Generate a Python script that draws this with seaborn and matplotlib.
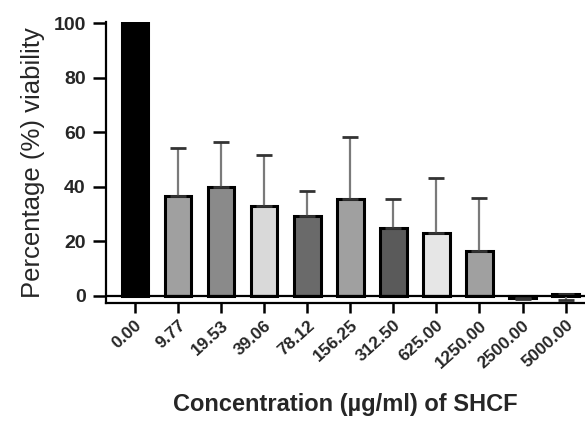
import numpy as np
import pandas as pd
import matplotlib
matplotlib.use('Agg')
import matplotlib.pyplot as plt
import seaborn as sns

# ── Data ───────────────────────────────────────────────────────────────────────
concentrations = ['0.00', '9.77', '19.53', '39.06', '78.12', '156.25',
                  '312.50', '625.00', '1250.00', '2500.00', '5000.00']
viability = [100.0, 36.6, 40.0, 33.0, 29.4, 35.5, 25.0, 23.2, 16.6, -0.8, 0.6]
sd        = [0.0, 17.6, 16.5, 18.5, 9.1, 22.9, 10.4, 20.1, 19.4, 0.4, 2.0]
bar_colors = ['#000000', '#a0a0a0', '#8a8a8a', '#d9d9d9', '#6a6a6a', '#a0a0a0',
              '#5a5a5a', '#e6e6e6', '#a0a0a0', '#000000', '#a0a0a0']

df = pd.DataFrame({'conc': concentrations, 'viab': viability})

sns.set_style('ticks')
plt.rcParams['font.family'] = ['Liberation Sans', 'DejaVu Sans']

fig = plt.figure(figsize=(5.85, 4.22), dpi=100)
ax = fig.add_axes([106/585, 1 - 303/422, (585 - 106)/585, (303 - 22)/422])

sns.barplot(data=df, x='conc', y='viab', hue='conc', palette=bar_colors,
            legend=False, width=0.62, edgecolor='black', linewidth=2.2,
            saturation=1, ax=ax)

# error bars: upward for bars above zero, downward for the near-zero ones
# (control bar has no spread, so it is skipped)
x = np.arange(1, len(concentrations))
vals = viability[1:]
upper = [s if i < 8 else 0 for i, s in enumerate(sd[1:])]
lower = [0 if i < 8 else s for i, s in enumerate(sd[1:])]
_, caps, _ = ax.errorbar(x, vals, yerr=[lower, upper], fmt='none', ecolor='#7a7a7a',
                         elinewidth=1.6, capsize=6, capthick=2, zorder=1)
for c in caps:
    c.set_markeredgecolor('#333333')

ax.axhline(0, color='black', lw=1.6, zorder=3)

ax.set_xlim(-0.67, 10.45)
ax.set_ylim(-2.6, 100.4)
ax.set_yticks([0, 20, 40, 60, 80, 100])

sns.despine(ax=ax, top=True, right=True)
for sp in ['left', 'bottom']:
    ax.spines[sp].set_linewidth(1.6)
    ax.spines[sp].set_color('black')

ax.tick_params(axis='y', width=1.8, length=9.5, color='black', labelsize=14, pad=5)
ax.tick_params(axis='x', width=1.8, length=7.5, color='black', labelsize=12.5, pad=3)
for lab in ax.get_yticklabels():
    lab.set_fontweight('bold')
for lab in ax.get_xticklabels():
    lab.set_fontweight('bold')
    lab.set_rotation(42)
    lab.set_ha('right')
    lab.set_rotation_mode('anchor')

ax.set_ylabel('Percentage (%) viability', fontsize=18.5, labelpad=6)
ax.set_xlabel('Concentration (µg/ml) of SHCF', fontsize=17,
              fontweight='bold', labelpad=16)

plt.savefig('out.png', dpi=100)
plt.close()
